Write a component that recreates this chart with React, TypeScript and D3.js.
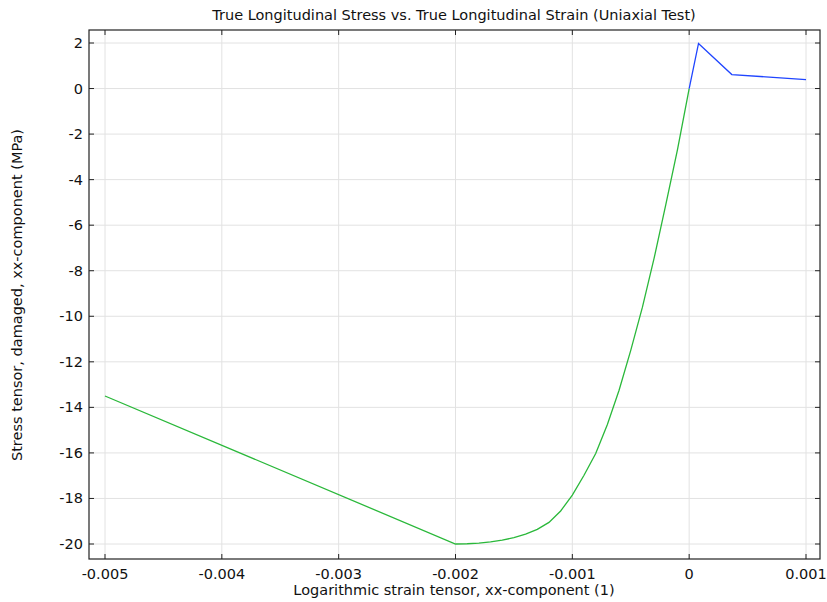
import React from "react";
import * as d3 from "d3";

const compStrain = [-0.005, -0.002, -0.0019, -0.0018, -0.0017, -0.0016, -0.0015, -0.0014, -0.0013, -0.0012, -0.0011, -0.001, -0.0009, -0.0008, -0.0007, -0.0006, -0.0005, -0.0004, -0.0003, -0.0002, -0.0001, 0];
const compStress = [-13.5, -20.0, -19.99, -19.96, -19.91, -19.83, -19.72, -19.57, -19.36, -19.05, -18.55, -17.85, -16.98, -16.03, -14.75, -13.25, -11.5, -9.6, -7.45, -5.1, -2.68, 0];

const tensStrain = [0, 0.00008, 0.000365, 0.001];
const tensStress = [0, 1.98, 0.615, 0.39];

const xTicks = [-0.005, -0.004, -0.003, -0.002, -0.001, 0, 0.001];
const yTicks = [2, 0, -2, -4, -6, -8, -10, -12, -14, -16, -18, -20];

const W = 827, H = 602;
const left = 89, right = 820, top = 30, bottom = 559;
const FONT = "DejaVu Sans, Verdana, sans-serif";
const FS = 14.5;

export default function App() {
  const x = d3.scaleLinear().domain([-0.005, 0.001]).range([105, 806]);
  const y = d3.scaleLinear().domain([2, -20]).range([43, 544]);
  const line = d3.line<[number, number]>().x(d => x(d[0])).y(d => y(d[1]));
  const comp = compStrain.map((s, i) => [s, compStress[i]] as [number, number]);
  const tens = tensStrain.map((s, i) => [s, tensStress[i]] as [number, number]);
  const fmtX = (v: number) => (v === 0 ? "0" : v.toString());
  return (
    <svg width={W} height={H} style={{ position: "absolute", left: 0, top: 0, background: "#fff" }} fontFamily={FONT}>
      <rect x={0} y={0} width={W} height={H} fill="#fff" />
      {xTicks.map(t => (
        <line key={"gx" + t} x1={x(t)} x2={x(t)} y1={top} y2={bottom} stroke="#e2e2e2" strokeWidth={1} />
      ))}
      {yTicks.map(t => (
        <line key={"gy" + t} x1={left} x2={right} y1={y(t)} y2={y(t)} stroke="#e2e2e2" strokeWidth={1} />
      ))}
      <path d={line(comp) || ""} fill="none" stroke="#2ab83a" strokeWidth={1.3} />
      <path d={line(tens) || ""} fill="none" stroke="#1f45ff" strokeWidth={1.3} />
      <rect x={left} y={top} width={right - left} height={bottom - top} fill="none" stroke="#222" strokeWidth={1.2} />
      {xTicks.map(t => (
        <g key={"tx" + t}>
          <line x1={x(t)} x2={x(t)} y1={bottom} y2={bottom - 5} stroke="#222" />
          <line x1={x(t)} x2={x(t)} y1={top} y2={top + 5} stroke="#222" />
          <text x={x(t)} y={579} fontSize={FS} textAnchor="middle" fill="#111">{fmtX(t)}</text>
        </g>
      ))}
      {yTicks.map(t => (
        <g key={"ty" + t}>
          <line x1={left} x2={left + 5} y1={y(t)} y2={y(t)} stroke="#222" />
          <line x1={right} x2={right - 5} y1={y(t)} y2={y(t)} stroke="#222" />
          <text x={83} y={y(t) + 5} fontSize={FS} textAnchor="end" fill="#111">{t}</text>
        </g>
      ))}
      <text x={454} y={19.5} fontSize={FS} textAnchor="middle" fill="#111">True Longitudinal Stress vs. True Longitudinal Strain (Uniaxial Test)</text>
      <text x={454} y={595} fontSize={FS} textAnchor="middle" fill="#111">Logarithmic strain tensor, xx-component (1)</text>
      <text transform={`translate(22,295) rotate(-90)`} fontSize={FS} textAnchor="middle" fill="#111">Stress tensor, damaged, xx-component (MPa)</text>
    </svg>
  );
}
